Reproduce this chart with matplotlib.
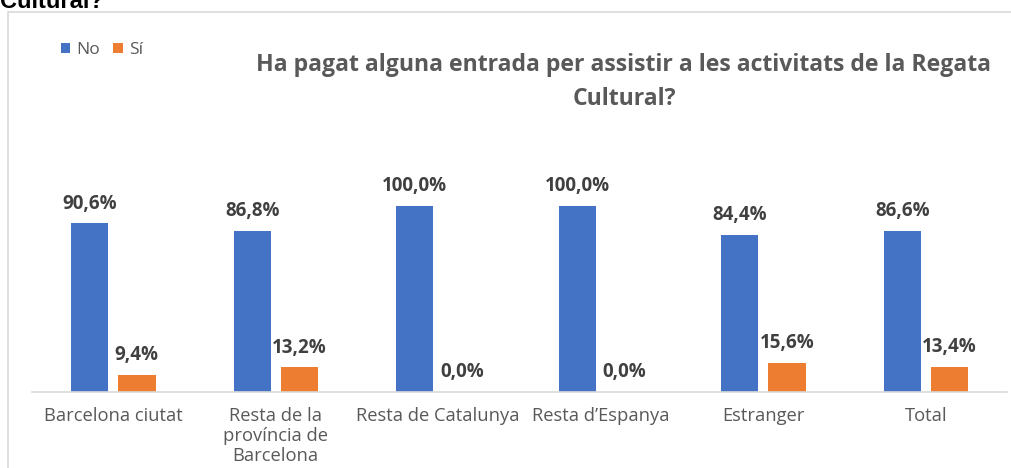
import numpy as np
import matplotlib.pyplot as plt
from matplotlib.patches import Rectangle

categories = ["Barcelona ciutat", "Resta de la\nprovíncia de\nBarcelona",
              "Resta de Catalunya", "Resta d\u2019Espanya", "Estranger", "Total"]
no_vals = [90.6, 86.8, 100.0, 100.0, 84.4, 86.6]
si_vals = [9.4, 13.2, 0.0, 0.0, 15.6, 13.4]
title = "Ha pagat alguna entrada per assistir a les activitats de la Regata\nCultural?"

BLUE = "#4472C4"
ORANGE = "#ED7D31"
GRAY = "#595959"
DARK = "#404040"
FONTS = ["Open Sans", "DejaVu Sans"]

plt.rcParams['font.family'] = ['Lato', 'DejaVu Sans']

W, H = 1011, 468
fig = plt.figure(figsize=(W / 100, H / 100), dpi=100)

# light frame round the chart area
fig.patches.append(Rectangle((8 / W, -0.05), 1.1, 1 - 12 / H + 0.05, transform=fig.transFigure,
                             fill=False, edgecolor="#D9D9D9", linewidth=1.2))

# heading cut at the top edge
fig.text(0 / W, 1 - 1 / H, "Cultural?", fontsize=17, fontweight="bold", color="black",
         family="Liberation Sans", ha="left", va="center")

ax = fig.add_axes([32 / W, (H - 392) / H, (1007 - 32) / W, (392 - 206) / H])
x = np.arange(len(categories))
bw = 0.23
gap = 0.06
ax.bar(x - (bw + gap) / 2, no_vals, bw, color=BLUE, label="No")
ax.bar(x + (bw + gap) / 2, si_vals, bw, color=ORANGE, label="Sí")

for i in range(len(categories)):
    for off, v in ((-(bw + gap) / 2, no_vals[i]), ((bw + gap) / 2, si_vals[i])):
        ax.annotate(f"{v:.1f}%".replace(".", ","), (x[i] + off, v), xytext=(0, 7),
                    textcoords="offset points", ha="center", va="bottom",
                    fontsize=13.5, fontweight="bold", color=DARK, clip_on=False,
                    family=FONTS)

ax.set_xlim(-0.5, len(categories) - 0.5)
ax.set_ylim(0, 100)
ax.set_yticks([])
ax.set_xticks(x)
ax.set_xticklabels(categories, fontsize=13.2, color=GRAY, linespacing=1.15,
                   family=FONTS)
ax.tick_params(axis="x", length=0, pad=11)
for s in ("left", "right", "top"):
    ax.spines[s].set_visible(False)
ax.spines["bottom"].set_color("#D9D9D9")
ax.spines["bottom"].set_linewidth(1.2)

fig.text(624 / W, 1 - 82 / H, title, ha="center", va="center", fontsize=16.6,
         fontweight="bold", color=GRAY, linespacing=1.6, family=FONTS)

leg = fig.legend(loc="center left", bbox_to_anchor=(45 / W, 1 - 50 / H), ncol=2,
                 frameon=False, handlelength=0.55, handleheight=0.55,
                 handletextpad=0.35, columnspacing=0.75,
                 prop={"family": FONTS, "size": 12.5})
for t in leg.get_texts():
    t.set_color(GRAY)

fig.savefig("out.png", dpi=100, facecolor="white")
